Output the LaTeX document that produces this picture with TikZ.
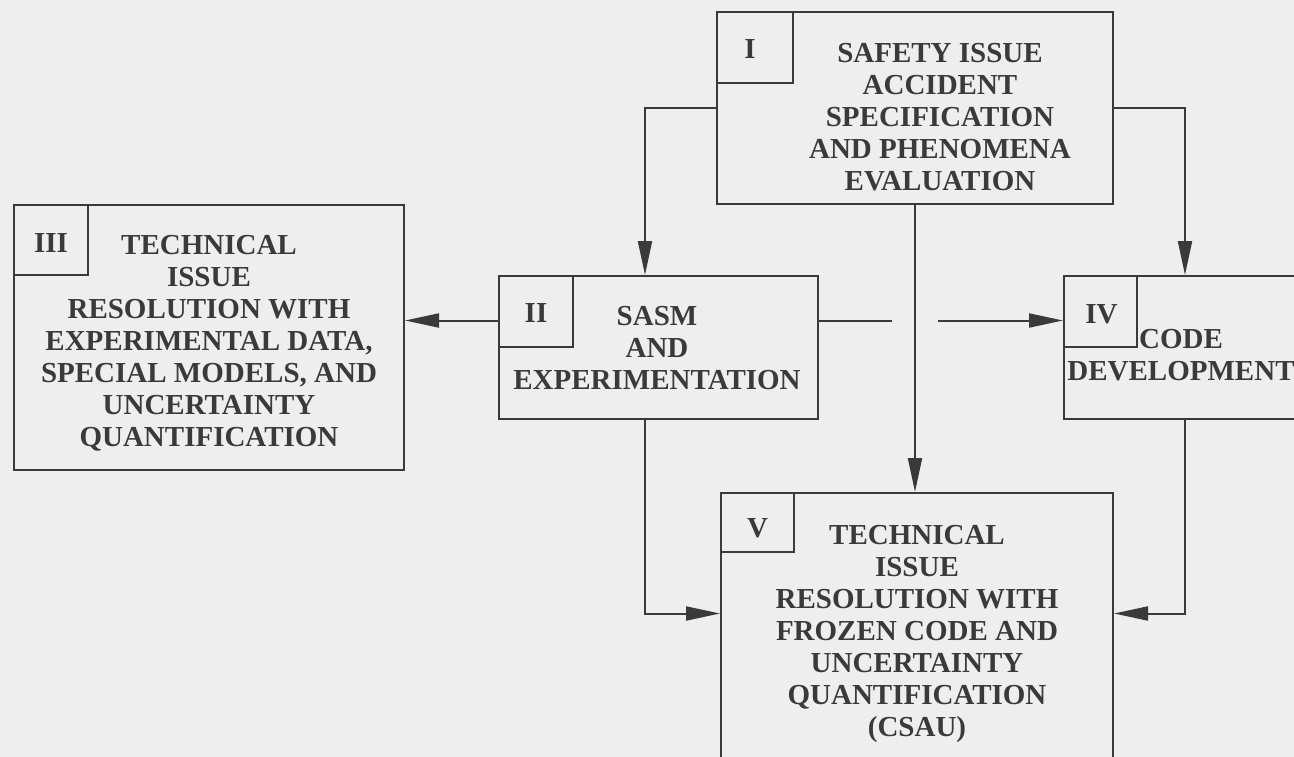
\documentclass[tikz,border=0pt]{standalone}
\usepackage{fontspec}
\setmainfont{Liberation Serif}
\usetikzlibrary{arrows.meta,calc}
\definecolor{ink}{HTML}{3A3A3A}
\definecolor{paper}{HTML}{EEEEEE}
\begin{document}
\begin{tikzpicture}[x=1pt,y=-1pt,
  box/.style={draw=ink, line width=2pt, rectangle, inner sep=0pt},
  txt/.style={text=ink, font=\bfseries\fontsize{29}{32}\selectfont, align=center, inner sep=0pt, anchor=base},
  arr/.style={draw=ink, line width=2pt, -{Triangle[length=34pt,width=14pt]}},
  ln/.style={draw=ink, line width=2pt}]
\path[fill=paper] (0,0) rectangle (1294,757);
\useasboundingbox (0,0) rectangle (1294,757);
\clip (0,0) rectangle (1294,757);
% boxes
\node[box, minimum width=396, minimum height=192] (b1) at (915,108) {};
\node[box, minimum width=76, minimum height=71, anchor=north west] (l1) at (b1.north west) {};
\node[box, minimum width=390, minimum height=265] (b3) at (209,337.5) {};
\node[box, minimum width=74, minimum height=70, anchor=north west] (l3) at (b3.north west) {};
\node[box, minimum width=319, minimum height=143] (b2) at (658.5,347.5) {};
\node[box, minimum width=74, minimum height=71, anchor=north west] (l2) at (b2.north west) {};
\node[box, minimum width=242, minimum height=143] (b4) at (1185,347.5) {};
\node[box, minimum width=73, minimum height=71, anchor=north west] (l4) at (b4.north west) {};
\node[box, minimum width=392, minimum height=297] (b5) at (917,641.5) {};
\node[box, minimum width=73, minimum height=59, anchor=north west] (l5) at (b5.north west) {};
% label numerals
\node[txt] (n1) at ($(l1.north)+(-5,48)$) {I};
\node[txt] (n3) at ($(l3.north)+(0,48)$) {III};
\node[txt] (n2) at ($(l2.north)+(0,47)$) {II};
\node[txt] (n4) at ($(l4.north)+(1,48)$) {IV};
\node[txt] (n5) at ($(l5.north)+(0,45)$) {V};
% texts (anchor = baseline of last line)
\node[txt] (t1) at (940,190) {SAFETY ISSUE\\ACCIDENT\\SPECIFICATION\\AND PHENOMENA\\EVALUATION};
\node[txt] (t3) at (209,446) {TECHNICAL\\ISSUE\\RESOLUTION WITH\\EXPERIMENTAL DATA,\\SPECIAL MODELS, AND\\UNCERTAINTY\\QUANTIFICATION};
\node[txt] (t2) at (657,389) {SASM\\AND\\EXPERIMENTATION};
\node[txt] (t4) at (1181,380) {CODE\\DEVELOPMENT};
\node[txt] (t5) at (917,736) {TECHNICAL\\ISSUE\\RESOLUTION WITH\\FROZEN CODE AND\\UNCERTAINTY\\QUANTIFICATION\\(CSAU)};
% connectors
\draw[arr] (b1.west) -| ($(b2.north west)+(147,0)$);
\draw[arr] (b1.east) -| (b4.north);
\draw[arr] (b1.south) -- (b1.south |- b5.north);
\coordinate (p2w) at ($(b2.west)+(0,-27)$);
\draw[arr] (p2w) -- (p2w -| b3.east);
\coordinate (gapL) at ($(p2w -| b1.south)+(-23,0)$);
\coordinate (gapR) at ($(p2w -| b1.south)+(23,0)$);
\draw[ln] (p2w -| b2.east) -- (gapL);
\draw[arr] (gapR) -- (gapR -| b4.west);
\draw[arr] ($(b2.south west)+(147,0)$) |- ($(b5.west)+(0,-28)$);
\draw[arr] (b4.south) |- ($(b5.east)+(0,-28)$);
\end{tikzpicture}
\end{document}
